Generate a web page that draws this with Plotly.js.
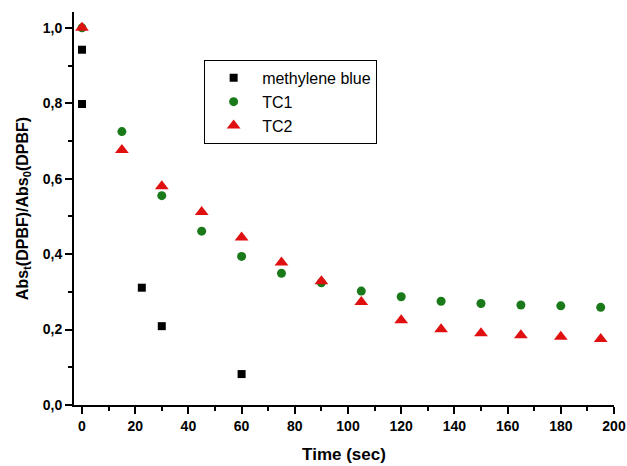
<!DOCTYPE html>
<html>
<head>
<meta charset="utf-8">
<script src="https://cdn.plot.ly/plotly-3.0.1.min.js"></script>
<style>html,body{margin:0;padding:0;background:#fff;}#chart{width:627px;height:466px;}</style>
</head>
<body>
<div id="chart"></div>
<script>
// Data
const mbTime = [0, 0, 22.5, 30, 60];
const mbValue = [0.942, 0.798, 0.311, 0.209, 0.082];

const tc1Time = [0, 15, 30, 45, 60, 75, 90, 105, 120, 135, 150, 165, 180, 195];
const tc1Value = [1.0, 0.725, 0.555, 0.461, 0.394, 0.349, 0.324, 0.302, 0.287, 0.275, 0.269, 0.265, 0.263, 0.259];

const tc2Time = [0, 15, 30, 45, 60, 75, 90, 105, 120, 135, 150, 165, 180, 195];
const tc2Value = [1.0, 0.676, 0.58, 0.512, 0.444, 0.378, 0.328, 0.273, 0.225, 0.201, 0.19, 0.185, 0.181, 0.175];

const seriesNames = ["methylene blue", "TC1", "TC2"];
const xTickVals = [0, 20, 40, 60, 80, 100, 120, 140, 160, 180, 200];
const yTickVals = [0, 0.2, 0.4, 0.6, 0.8, 1.0];

const traces = [
  {x: mbTime, y: mbValue, name: seriesNames[0], type: "scatter", mode: "markers",
   marker: {symbol: "square", size: 8, color: "#000000"}},
  {x: tc1Time, y: tc1Value, name: seriesNames[1], type: "scatter", mode: "markers",
   marker: {symbol: "circle", size: 9, color: "#1a7a1a"}},
  {x: tc2Time, y: tc2Value, name: seriesNames[2], type: "scatter", mode: "markers",
   marker: {symbol: "triangle-up", size: 12, color: "#e01010"}}
];

const fam = "Arial, 'Liberation Sans', sans-serif";

const layout = {
  width: 627, height: 466,
  margin: {l: 74, r: 13, t: 12, b: 61},
  paper_bgcolor: "#fff", plot_bgcolor: "#fff",
  separators: ",.",
  showlegend: true,
  legend: {
    x: 0.241, y: 0.878, xanchor: "left", yanchor: "top",
    bordercolor: "#000", borderwidth: 1, bgcolor: "#fff",
    font: {family: fam, size: 16, color: "#000"},
    itemwidth: 47, tracegroupgap: 0, entrywidth: 190, entrywidthmode: "pixels"
  },
  xaxis: {
    range: [-3, 200], autorange: false,
    tickmode: "array", tickvals: xTickVals,
    ticks: "outside", ticklen: 7, tickwidth: 2, tickcolor: "#000",
    minor: {dtick: 10, tick0: 0, ticks: "outside", ticklen: 4, tickwidth: 2, tickcolor: "#000", showgrid: false},
    showline: true, linewidth: 2, linecolor: "#000",
    showgrid: false, zeroline: false, mirror: false,
    tickfont: {family: fam, size: 14, color: "#000", weight: "bold"},
    title: {text: "<b>Time (sec)</b>", font: {family: fam, size: 17, color: "#000"}, standoff: 15}
  },
  yaxis: {
    range: [0, 1.042], autorange: false,
    tickmode: "array", tickvals: yTickVals, tickformat: ".1f",
    ticks: "outside", ticklen: 7, tickwidth: 2, tickcolor: "#000",
    minor: {dtick: 0.1, tick0: 0, ticks: "outside", ticklen: 4, tickwidth: 2, tickcolor: "#000", showgrid: false},
    showline: true, linewidth: 2, linecolor: "#000",
    showgrid: false, zeroline: false, mirror: false,
    tickfont: {family: fam, size: 14, color: "#000", weight: "bold"},
    title: {text: "<b>Abs<sub>t</sub>(DPBF)/Abs<sub>0</sub>(DPBF)</b>", font: {family: fam, size: 16, color: "#000"}, standoff: 10}
  }
};

Plotly.newPlot("chart", traces, layout, {displayModeBar: false, staticPlot: true});
</script>
</body>
</html>
